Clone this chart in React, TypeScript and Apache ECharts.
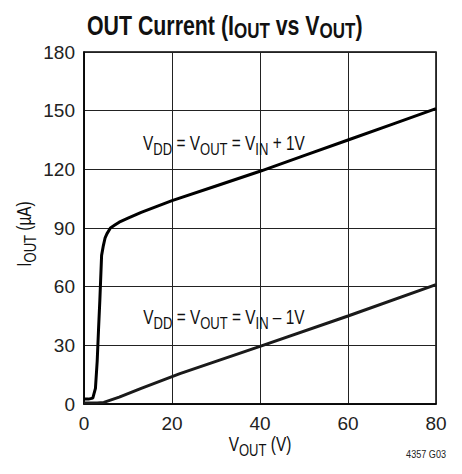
import React, { useEffect, useRef } from "react";
import * as echarts from "echarts";

const FONT = "'Liberation Sans', Arimo, Arial, sans-serif";
const SQUEEZE = 0.79;

const xTicks = [0, 20, 40, 60, 80];
const yTicks = [0, 30, 60, 90, 120, 150, 180];

// V_DD = V_OUT = V_IN + 1V
const upperV = [0, 1, 2, 2.6, 3.0, 3.3, 3.6, 4.0, 4.4, 4.8, 5.2, 6, 7, 8, 10, 13, 20, 30, 40, 50, 60, 70, 80];
const upperI = [2.5, 2.5, 3, 8, 22, 38, 53, 76, 81, 85, 87, 90, 91.5, 93, 95, 98, 104, 111.5, 119, 127, 135, 143, 151];

// V_DD = V_OUT = V_IN - 1V
const lowerV = [0, 3, 4.5, 8, 13, 21.8, 40, 60, 80];
const lowerI = [0.5, 0.5, 0.8, 3.5, 8, 15.5, 29.5, 45, 61];

const labelUpperAt = [31.8, 133.5];
const labelLowerAt = [31.8, 44.5];
const labelUpperText = "V{s|DD} = V{s|OUT} = V{s|IN} + 1V";
const labelLowerText = "V{s|DD} = V{s|OUT} = V{s|IN} \u2013 1V";

export default function App() {
  const ref = useRef<HTMLDivElement>(null);
  useEffect(() => {
    if (!ref.current) return;
    const chart = echarts.init(ref.current, undefined, { renderer: "svg" });
    const grid = { left: 84, top: 52, width: 352, height: 352 };
    chart.setOption({
      animation: false,
      backgroundColor: "#fff",
      grid: {
        ...grid,
        show: true,
        borderColor: "#000",
        borderWidth: 1.5,
        containLabel: false,
      },
      xAxis: {
        type: "value",
        min: xTicks[0],
        max: xTicks[xTicks.length - 1],
        interval: 20,
        axisLine: { show: true, lineStyle: { color: "#000", width: 1.5 } },
        axisTick: { show: false },
        splitLine: { show: true, lineStyle: { color: "#222", width: 1 } },
        axisLabel: { fontFamily: FONT, fontSize: 19, color: "#222", margin: 10 },
      },
      yAxis: {
        type: "value",
        min: yTicks[0],
        max: yTicks[yTicks.length - 1],
        interval: 30,
        axisLine: { show: true, lineStyle: { color: "#000", width: 1.5 } },
        axisTick: { show: false },
        splitLine: { show: true, lineStyle: { color: "#222", width: 1 } },
        axisLabel: { fontFamily: FONT, fontSize: 19, color: "#222", margin: 9 },
      },
      series: [
        {
          type: "line",
          data: upperV.map((v, i) => [v, upperI[i]]),
          showSymbol: false,
          symbol: "none",
          lineStyle: { color: "#000", width: 3 },
        },
        {
          type: "line",
          data: lowerV.map((v, i) => [v, lowerI[i]]),
          showSymbol: false,
          symbol: "none",
          lineStyle: { color: "#1a1a1a", width: 3 },
        },
      ],
    });

    const pU = chart.convertToPixel({ gridIndex: 0 }, labelUpperAt) as number[];
    const pL = chart.convertToPixel({ gridIndex: 0 }, labelLowerAt) as number[];

    const labelRich = {
      s: { fontFamily: FONT, fontSize: 16.5, fill: "#111", padding: [13, 0, 0, 0] },
    };
    const labelText = (text: string, x: number, y: number, rotation = 0) => ({
      type: "text",
      x,
      y,
      rotation,
      scaleX: SQUEEZE,
      silent: true,
      style: {
        text,
        fontFamily: FONT,
        fontSize: 19.5,
        fill: "#111",
        align: "center",
        verticalAlign: "middle",
        rich: labelRich,
      },
    });

    chart.setOption({
      graphic: [
        {
          type: "text",
          x: 87,
          y: 9,
          scaleX: SQUEEZE,
          silent: true,
          style: {
            text: "OUT Current (I{s|OUT} vs V{s|OUT})",
            fontFamily: FONT,
            fontWeight: "bold",
            fontSize: 27,
            fill: "#111",
            align: "left",
            verticalAlign: "top",
            rich: {
              s: { fontFamily: FONT, fontWeight: "bold", fontSize: 21.5, fill: "#111", padding: [10.5, 0, 0, 0] },
            },
          },
        },
        labelText(labelUpperText, pU[0], pU[1]),
        labelText(labelLowerText, pL[0], pL[1]),
        labelText("V{s|OUT} (V)", grid.left + grid.width / 2, 444),
        labelText("I{s|OUT} (µA)", 24, grid.top + grid.height / 2 + 6, Math.PI / 2),
        {
          type: "text",
          x: 446,
          y: 454,
          scaleX: SQUEEZE,
          silent: true,
          style: {
            text: "4357 G03",
            fontFamily: FONT,
            fontSize: 11.5,
            fill: "#222",
            align: "right",
            verticalAlign: "middle",
          },
        },
      ],
    });
    return () => chart.dispose();
  }, []);
  return (
    <div
      ref={ref}
      style={{ position: "fixed", left: 0, top: 0, width: 462, height: 474, background: "#fff" }}
    />
  );
}
